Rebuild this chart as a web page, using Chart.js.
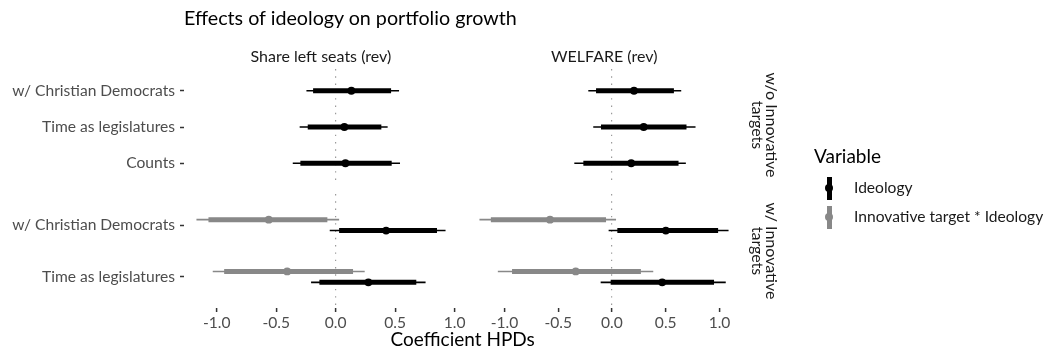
<!DOCTYPE html>
<html>
<head>
<meta charset="utf-8">
<script src="https://cdn.jsdelivr.net/npm/chart.js@4.4.1/dist/chart.umd.min.js"></script>
<style>
  body { margin: 0; background: #fff; font-family: Lato, sans-serif; }
  #wrap { position: relative; width: 1058px; height: 354px; overflow: hidden; }
  #wrap canvas { position: absolute; left: 0; top: 0; }
  .txt { position: absolute; white-space: nowrap; color: #1a1a1a; }
  .strip { position: absolute; font-size: 16px; line-height: 14px; text-align: center; color: #1a1a1a;
           transform: translate(-50%, -50%) rotate(90deg); white-space: nowrap; }
  .key { position: absolute; }
</style>
</head>
<body>
<div id="wrap">
  <canvas id="p1" width="1058" height="354"></canvas>
  <canvas id="p2" width="1058" height="354"></canvas>
  <canvas id="p3" width="1058" height="354"></canvas>
  <canvas id="p4" width="1058" height="354"></canvas>

  <div class="txt" style="left:184px; top:6px; font-size:19.7px; color:#000;">Effects of ideology on portfolio growth</div>
  <div class="txt" id="colA" style="top:46px; font-size:16px;">Share left seats (rev)</div>
  <div class="txt" id="colB" style="top:46px; font-size:16px;">WELFARE (rev)</div>
  <div class="strip" style="left:765px; top:125px;">w/o Innovative<br>targets</div>
  <div class="strip" style="left:765px; top:251px;">w/ Innovative<br>targets</div>
  <div class="txt" id="xtitle" style="top:327px; font-size:19px; color:#000;">Coefficient HPDs</div>

  <div class="txt" style="left:814px; top:144px; font-size:19px; color:#000;">Variable</div>
  <div class="key" style="left:826.5px; top:177px; width:5px; height:23px; background:#000;"></div>
  <div class="key" style="left:825px; top:184px; width:8px; height:8px; border-radius:50%; background:#000;"></div>
  <div class="txt" style="left:854px; top:178px; font-size:15.6px;">Ideology</div>
  <div class="key" style="left:826.5px; top:206px; width:5px; height:23px; background:#888;"></div>
  <div class="key" style="left:825px; top:213px; width:8px; height:8px; border-radius:50%; background:#888;"></div>
  <div class="txt" style="left:854px; top:207px; font-size:15.6px;">Innovative target * Ideology</div>
</div>
<script>
// rows of each facet
const rowsTop = ['w/ Christian Democrats', 'Time as legislatures', 'Counts'];
const rowsBottom = ['w/ Christian Democrats', 'Time as legislatures'];
const xTicks = [-1, -0.5, 0, 0.5, 1];

// Share left seats (rev), w/o Innovative targets, Ideology
const shareTopEst = [0.132, 0.073, 0.082];
const shareTopLo = [-0.246, -0.303, -0.361];
const shareTopHi = [0.533, 0.437, 0.541];
const shareTopLoIn = [-0.190, -0.235, -0.297];
const shareTopHiIn = [0.466, 0.384, 0.471];

// WELFARE (rev), w/o Innovative targets, Ideology
const welfTopEst = [0.205, 0.295, 0.179];
const welfTopLo = [-0.220, -0.174, -0.350];
const welfTopHi = [0.644, 0.777, 0.687];
const welfTopLoIn = [-0.148, -0.102, -0.266];
const welfTopHiIn = [0.576, 0.693, 0.619];

// Share left seats (rev), w/ Innovative targets
const shareIdeoEst = [0.424, 0.275];
const shareIdeoLo = [-0.050, -0.207];
const shareIdeoHi = [0.924, 0.756];
const shareIdeoLoIn = [0.029, -0.137];
const shareIdeoHiIn = [0.852, 0.678];
const shareInnoEst = [-0.563, -0.408];
const shareInnoLo = [-1.171, -1.034];
const shareInnoHi = [0.029, 0.244];
const shareInnoLoIn = [-1.070, -0.938];
const shareInnoHiIn = [-0.070, 0.146];

// WELFARE (rev), w/ Innovative targets
const welfIdeoEst = [0.501, 0.467];
const welfIdeoLo = [-0.031, -0.105];
const welfIdeoHi = [1.084, 1.058];
const welfIdeoLoIn = [0.050, -0.012];
const welfIdeoHiIn = [0.987, 0.949];
const welfInnoEst = [-0.576, -0.337];
const welfInnoLo = [-1.232, -1.061];
const welfInnoHi = [0.038, 0.384];
const welfInnoLoIn = [-1.126, -0.929];
const welfInnoHiIn = [-0.055, 0.269];

const W = 1058, H = 354;
const colX = [[184, 458], [467, 741]];
const rowY = [[69, 185], [194, 308]];
const dodge = 0.105;

function expandRange(vals) {
  const lo = Math.min(...vals), hi = Math.max(...vals);
  const pad = (hi - lo) * 0.05;
  return [lo - pad, hi + pad];
}

const shareLim = expandRange([].concat(shareTopLo, shareTopHi, shareIdeoLo, shareIdeoHi, shareInnoLo, shareInnoHi));
const welfLim = expandRange([].concat(welfTopLo, welfTopHi, welfIdeoLo, welfIdeoHi, welfInnoLo, welfInnoHi));

function segs(pos, a, b) {
  const out = [];
  pos.forEach((p, i) => {
    out.push({ x: a[i], y: p }, { x: b[i], y: p }, { x: null, y: null });
  });
  return out;
}

function pointrange(color, pos, lo, hi, loIn, hiIn, est) {
  return [
    { data: segs(pos, lo, hi), showLine: true, borderColor: color, borderWidth: 1.6,
      borderCapStyle: 'butt', pointRadius: 0, spanGaps: false },
    { data: segs(pos, loIn, hiIn), showLine: true, borderColor: color, borderWidth: 5,
      borderCapStyle: 'butt', pointRadius: 0, spanGaps: false },
    { data: est.map((v, i) => ({ x: v, y: pos[i] })), showLine: false, pointRadius: 3.9,
      pointBackgroundColor: color, pointBorderWidth: 0 }
  ];
}

function panel(id, col, row, lim, rows, datasets) {
  const [x0, x1] = colX[col];
  const [y0, y1] = rowY[row];
  const showY = col === 0;
  const showX = row === 1;
  new Chart(document.getElementById(id), {
    type: 'scatter',
    data: { datasets: datasets },
    options: {
      responsive: false,
      animation: false,
      events: [],
      layout: { padding: { left: showY ? 0 : x0, right: W - x1, top: y0, bottom: 0 } },
      plugins: { legend: { display: false }, tooltip: { enabled: false } },
      scales: {
        x: {
          type: 'linear', min: lim[0], max: lim[1],
          afterBuildTicks: s => { s.ticks = xTicks.map(v => ({ value: v })); },
          afterFit: s => { s.height = H - y1; s.paddingLeft = 0; s.paddingRight = 0; },
          grid: {
            color: c => (c.tick && c.tick.value === 0) ? '#9a9a9a' : 'rgba(0,0,0,0)',
            lineWidth: 1.2, drawTicks: showX, tickLength: 4, tickWidth: 1.5, tickColor: '#333'
          },
          border: { display: false, dash: [1.4, 5.9] },
          ticks: {
            display: showX, padding: 2, maxRotation: 0, autoSkip: false,
            color: '#4d4d4d', font: { family: 'Lato', size: 15.6 },
            callback: v => v.toFixed(1)
          }
        },
        y: {
          type: 'linear', reverse: true, min: 0.4, max: rows.length + 0.6,
          display: showY,
          afterBuildTicks: s => { s.ticks = rows.map((r, i) => ({ value: i + 1 })); },
          afterFit: s => {
            if (showY) s.width = x0;
            s.paddingTop = 0; s.paddingBottom = 0;
          },
          grid: { drawOnChartArea: false, drawTicks: true, tickLength: 4, tickWidth: 1.5, tickColor: '#333' },
          border: { display: false },
          ticks: {
            padding: 5, autoSkip: false,
            color: '#4d4d4d', font: { family: 'Lato', size: 15.6 },
            callback: v => rows[Math.round(v) - 1]
          }
        }
      }
    }
  });
}

const posTop = rowsTop.map((r, i) => i + 1);
const posInno = rowsBottom.map((r, i) => i + 1 - dodge);
const posIdeo = rowsBottom.map((r, i) => i + 1 + dodge);
const black = '#000000', grey = '#888888';

panel('p1', 0, 0, shareLim, rowsTop,
  pointrange(black, posTop, shareTopLo, shareTopHi, shareTopLoIn, shareTopHiIn, shareTopEst));
panel('p2', 1, 0, welfLim, rowsTop,
  pointrange(black, posTop, welfTopLo, welfTopHi, welfTopLoIn, welfTopHiIn, welfTopEst));
panel('p3', 0, 1, shareLim, rowsBottom,
  pointrange(grey, posInno, shareInnoLo, shareInnoHi, shareInnoLoIn, shareInnoHiIn, shareInnoEst)
    .concat(pointrange(black, posIdeo, shareIdeoLo, shareIdeoHi, shareIdeoLoIn, shareIdeoHiIn, shareIdeoEst)));
panel('p4', 1, 1, welfLim, rowsBottom,
  pointrange(grey, posInno, welfInnoLo, welfInnoHi, welfInnoLoIn, welfInnoHiIn, welfInnoEst)
    .concat(pointrange(black, posIdeo, welfIdeoLo, welfIdeoHi, welfIdeoLoIn, welfIdeoHiIn, welfIdeoEst)));

// center the column strips and x title over the panels
function centerAt(id, cx) {
  const el = document.getElementById(id);
  el.style.left = (cx - el.offsetWidth / 2) + 'px';
}
centerAt('colA', (colX[0][0] + colX[0][1]) / 2);
centerAt('colB', (colX[1][0] + colX[1][1]) / 2);
centerAt('xtitle', (colX[0][0] + colX[1][1]) / 2);
</script>
</body>
</html>
